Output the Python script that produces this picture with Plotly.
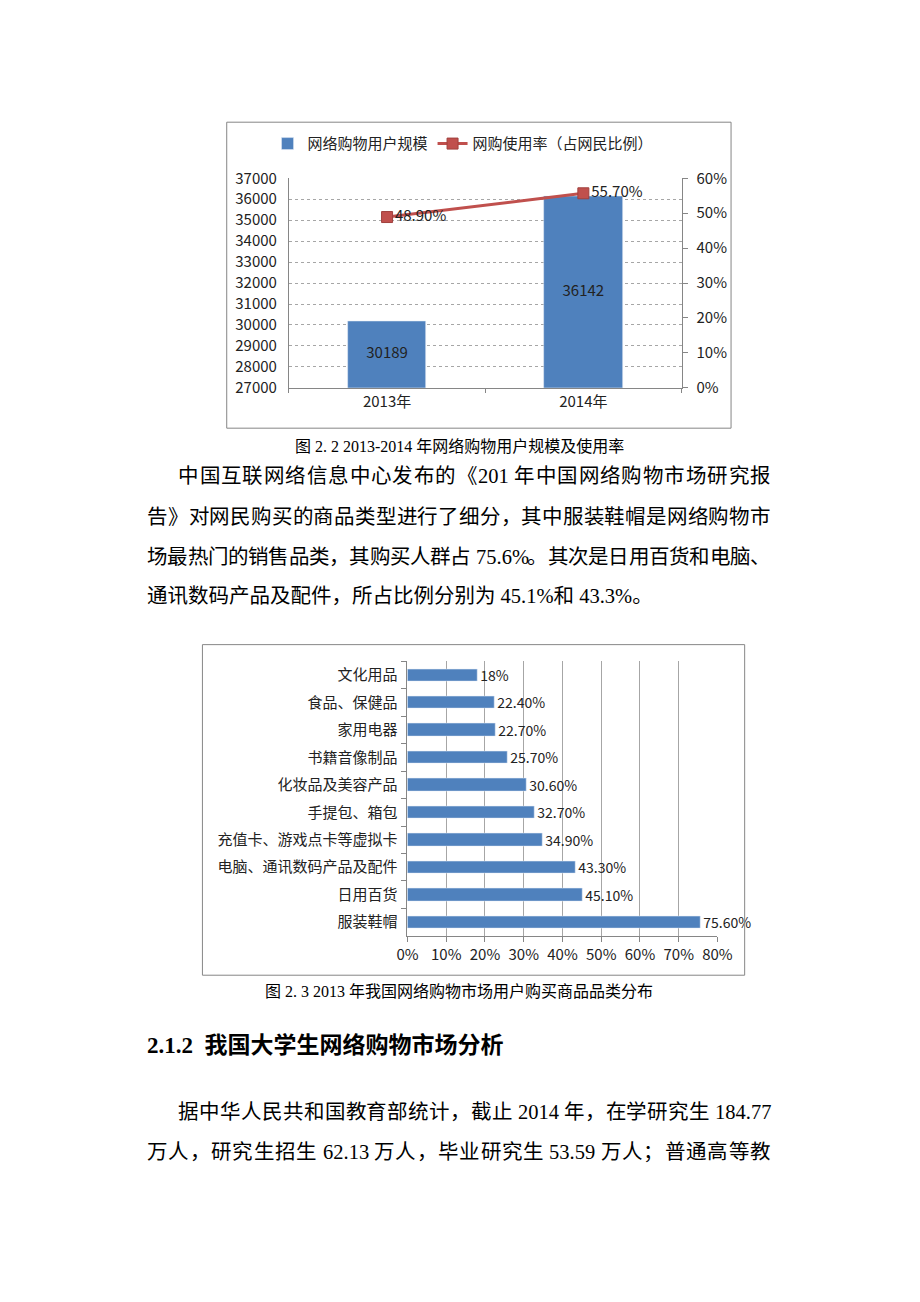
import plotly.graph_objects as go

# ---------------- data ----------------
years = ["2013年", "2014年"]
users = [30189, 36142]
users_axis_min, users_axis_max = 27000, 37000
rates = [0.489, 0.557]
rate_labels = ["48.90%", "55.70%"]

categories = ["文化用品", "食品、保健品", "家用电器", "书籍音像制品", "化妆品及美容产品",
              "手提包、箱包", "充值卡、游戏点卡等虚拟卡", "电脑、通讯数码产品及配件", "日用百货", "服装鞋帽"]
shares = [0.18, 0.224, 0.227, 0.257, 0.306, 0.327, 0.349, 0.433, 0.451, 0.756]
share_labels = ["18%", "22.40%", "22.70%", "25.70%", "30.60%", "32.70%", "34.90%", "43.30%", "45.10%", "75.60%"]

W, H = 920, 1302
def X(px): return px / W
def Y(py): return 1 - py / H

BLUE = "#4F81BD"
RED = "#C0504D"
AX = "#868686"
GRID = "#A6A6A6"
CF = "Noto Sans CJK SC, sans-serif"
SF = "Liberation Serif, Noto Sans CJK SC, serif"

fig = go.Figure()

fig.add_trace(go.Bar(
    x=years, y=users, name="网络购物用户规模", marker_color=BLUE, width=0.4,
    xaxis="x", yaxis="y", hoverinfo="x+y"))
# value labels centred in the visible part of each bar
fig.add_trace(go.Scatter(
    x=years, y=[(users_axis_min + v) / 2 for v in users], mode="text",
    text=[str(v) for v in users], textposition="middle center", showlegend=False,
    textfont=dict(family=CF, size=15, color="#222"), xaxis="x", yaxis="y", hoverinfo="skip"))
fig.add_trace(go.Scatter(
    x=years, y=rates, name="网购使用率（占网民比例）", mode="lines+markers+text",
    line=dict(color=RED, width=3), marker=dict(symbol="square", size=11, color=RED,
                                                line=dict(color="#A0403D", width=1)),
    text=rate_labels, textposition="middle right",
    textfont=dict(family=CF, size=15, color="#222"), xaxis="x", yaxis="y2", cliponaxis=False))

fig.add_trace(go.Bar(
    x=shares, y=categories, orientation="h", marker_color=BLUE, width=0.45,
    text=share_labels, textposition="outside", cliponaxis=False, constraintext="none",
    textfont=dict(family=CF, size=14, color="#222"), showlegend=False,
    xaxis="x3", yaxis="y3"))

fig.update_layout(
    width=W, height=H, margin=dict(l=0, r=0, t=0, b=0),
    paper_bgcolor="white", plot_bgcolor="white",
    font=dict(family=CF, color="#222"),
    showlegend=True, bargap=0,
    legend=dict(orientation="h", x=X(264), y=Y(134), xanchor="left", yanchor="middle",
                font=dict(family=CF, size=15, color="#222"), bgcolor="rgba(0,0,0,0)",
                itemwidth=30, traceorder="normal"),
    xaxis=dict(domain=[X(286), X(690)], type="category", showline=True, linecolor=AX,
               ticks="outside", tickson="boundaries", ticklen=4, tickcolor=AX,
               tickfont=dict(size=15), anchor="y", showgrid=False, fixedrange=True),
    yaxis=dict(domain=[Y(382), Y(169)], range=[users_axis_min, users_axis_max], dtick=1000,
               tickformat="d",
               showgrid=True, gridcolor=GRID, griddash="dot", gridwidth=1,
               showline=True, linecolor=AX, ticks="", ticklabelstandoff=8,
               tickfont=dict(size=15), anchor="x", zeroline=False),
    yaxis2=dict(domain=[Y(382), Y(169)], range=[0, 0.6], dtick=0.1, tickformat=".0%",
                overlaying="y", side="right", showgrid=False, showline=True, linecolor=AX,
                ticks="outside", ticklen=5, tickcolor=AX, ticklabelstandoff=6,
                tickfont=dict(size=15), anchor="x", zeroline=False),
    xaxis3=dict(domain=[X(408), X(727)], range=[0, 0.8], dtick=0.1, tickformat=".0%",
                showgrid=True, gridcolor=GRID, gridwidth=1, showline=True, linecolor=AX,
                ticks="outside", ticklen=5, tickcolor=AX, tickfont=dict(size=15),
                anchor="y3", zeroline=False),
    yaxis3=dict(domain=[Y(939), Y(660)], type="category", autorange="reversed",
                showline=True, linecolor=AX, ticks="outside", tickson="boundaries",
                ticklen=5, tickcolor=AX, ticklabelstandoff=6, tickfont=dict(size=15),
                anchor="x3", showgrid=False),
)

shapes = [
    dict(type="rect", xref="paper", yref="paper", x0=X(222), x1=X(741), y0=Y(423), y1=Y(112),
         line=dict(color=AX, width=1)),
    dict(type="rect", xref="paper", yref="paper", x0=X(197), x1=X(755), y0=Y(979), y1=Y(643),
         line=dict(color=AX, width=1)),
]
fig.update_layout(shapes=shapes)

def txt(s, x, y, size, anchor="left", bold=False, family=SF):
    fig.add_annotation(text=(f"<b>{s}</b>" if bold else s), xref="paper", yref="paper",
                       x=X(x), y=Y(y), xanchor=anchor, yanchor="middle", showarrow=False,
                       borderpad=0, borderwidth=0,
                       font=dict(family=family, size=size, color="black"))

# approximate Liberation Serif advance widths (em)
LATIN_W = {".": 0.25, "%": 0.833, "-": 0.333, " ": 0.25}
def glyph_w(ch, size):
    if ord(ch) > 0x2000:
        return size
    return LATIN_W.get(ch, 0.5) * size

def tokenize(s):
    toks, cur = [], ""
    for ch in s:
        if ord(ch) > 0x2000:
            if cur:
                toks.append(cur); cur = ""
            toks.append(ch)
        elif ch == " ":
            if cur:
                toks.append(cur); cur = ""
            toks.append(" ")
        else:
            cur += ch
    if cur:
        toks.append(cur)
    return toks

def justify(s, x0, x1, y, size):
    toks = tokenize(s)
    widths = [sum(glyph_w(c, size) for c in t) for t in toks]
    natural = sum(widths)
    vis = [i for i, t in enumerate(toks) if t != " "]
    gaps = len(vis) - 1
    extra = (x1 - x0 - natural) / gaps if (x1 is not None and gaps > 0) else 0
    x = x0
    k = 0
    for i, t in enumerate(toks):
        if t != " ":
            txt(t, x, y, size)
            k += 1
            x += widths[i] + (extra if k <= gaps else 0)
        else:
            x += widths[i]

txt("图 2. 2 2013-2014 年网络购物用户规模及使用率", 462, 441, 16, anchor="center")
txt("图 2. 3 2013 年我国网络购物市场用户购买商品品类分布", 461, 995, 16, anchor="center")

RIGHT = 781
body = [
    ("中国互联网络信息中心发布的《201 年中国网络购物市场研究报", 172, 472, RIGHT),
    ("告》对网民购买的商品类型进行了细分，其中服装鞋帽是网络购物市", 140, 513, RIGHT),
    ("场最热门的销售品类，其购买人群占 75.6%。其次是日用百货和电脑、", 140, 554, RIGHT),
    ("通讯数码产品及配件，所占比例分别为 45.1%和 43.3%。", 140, 594, None),
    ("据中华人民共和国教育部统计，截止 2014 年，在学研究生 184.77", 172, 1118, RIGHT),
    ("万人，研究生招生 62.13 万人，毕业研究生 53.59 万人；普通高等教", 140, 1159, RIGHT),
]
for s, x, y, r in body:
    if r is None:
        txt(s, x, y, 20.5)
    else:
        justify(s, x, r, y, 20.5)

txt("2.1.2\u00a0\u00a0我国大学生网络购物市场分析", 140, 1050, 23, bold=True)

fig.write_html("out.html", config={"displayModeBar": False},
               post_script="document.body.style.margin='0px';")
